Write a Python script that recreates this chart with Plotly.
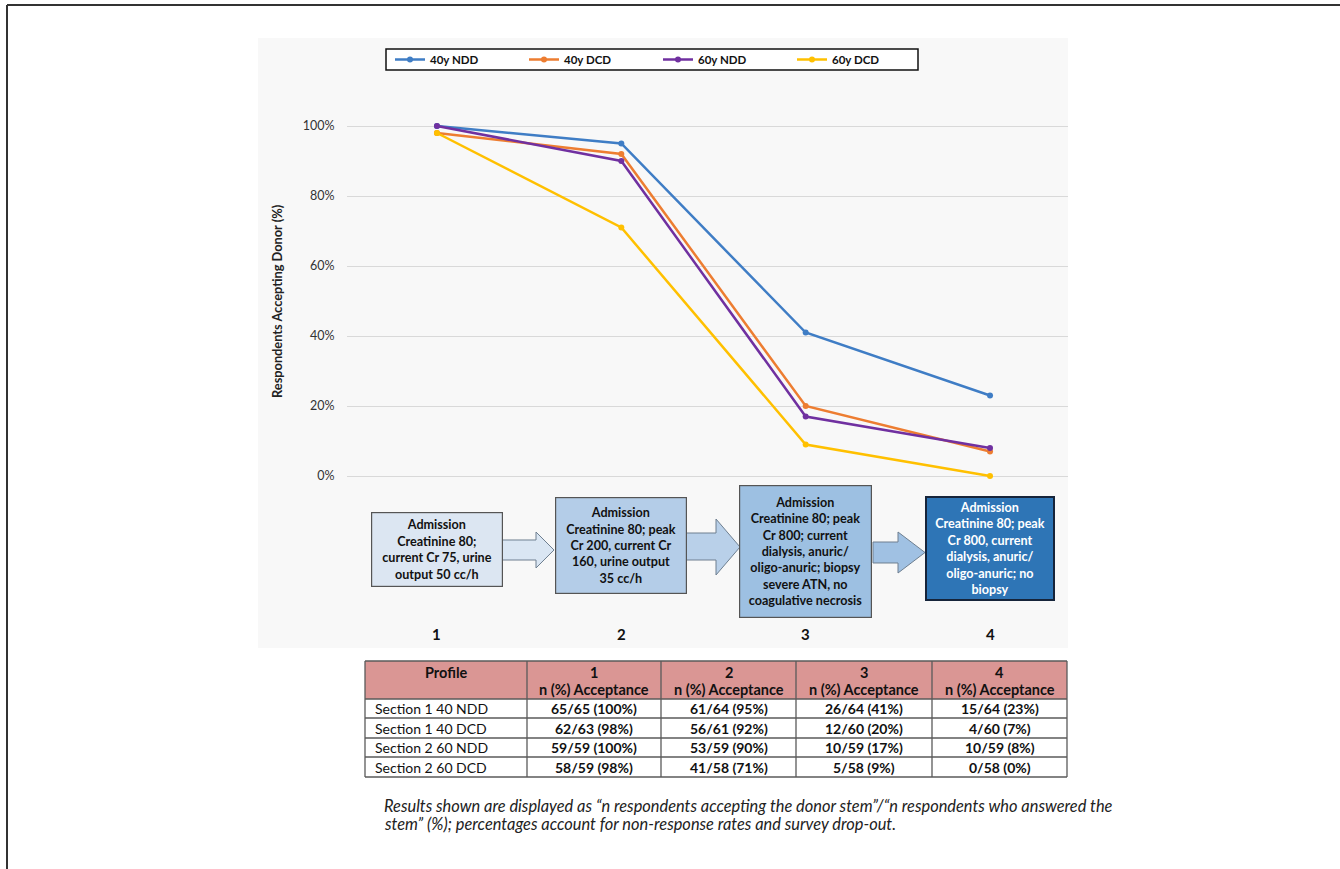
import plotly.graph_objects as go

# Acceptance (%) per donor profile for each donor group
profiles_x = [1, 2, 3, 4]
series_names = ["40y NDD", "40y DCD", "60y NDD", "60y DCD"]
ndd_40 = [100, 95, 41, 23]
dcd_40 = [98, 92, 20, 7]
ndd_60 = [100, 90, 17, 8]
dcd_60 = [98, 71, 9, 0]
series_colors = ["#3F7DC5", "#ED7D31", "#7030A0", "#FFC000"]
y_ticks = [0, 20, 40, 60, 80, 100]

# Table: respondents accepting / respondents answering
table_rows = ["Section 1 40 NDD", "Section 1 40 DCD", "Section 2 60 NDD", "Section 2 60 DCD"]
accepted = [[65, 61, 26, 15], [62, 56, 12, 4], [59, 53, 10, 10], [58, 41, 5, 0]]
answered = [[65, 64, 64, 64], [63, 61, 60, 60], [59, 59, 59, 59], [59, 58, 58, 58]]

profile_texts = [
    "Admission<br>Creatinine 80;<br>current Cr 75, urine<br>output 50 cc/h",
    "Admission<br>Creatinine 80; peak<br>Cr 200, current Cr<br>160, urine output<br>35 cc/h",
    "Admission<br>Creatinine 80; peak<br>Cr 800; current<br>dialysis, anuric/<br>oligo-anuric; biopsy<br>severe ATN, no<br>coagulative necrosis",
    "Admission<br>Creatinine 80; peak<br>Cr 800, current<br>dialysis, anuric/<br>oligo-anuric; no<br>biopsy",
]

footnote_lines = [
    "Results shown are displayed as “n respondents accepting the donor stem”/“n respondents who answered the",
    "stem” (%); percentages account for non-response rates and survey drop-out.",
]

W, H = 1340, 869
FONT = "Lato, 'Open Sans', sans-serif"


def px(x):
    return x / W


def py(y):
    return 1 - y / H


def label(text, x, y, font, xref="paper", xanchor="center", **kw):
    return dict(text=text, xref=xref, yref="paper", x=x, y=y, xanchor=xanchor, yanchor="middle",
                showarrow=False, font=font, **kw)


fig = go.Figure()

pct_series = [ndd_40, dcd_40, ndd_60, dcd_60]
for name, vals, col in zip(series_names, pct_series, series_colors):
    fig.add_trace(go.Scatter(
        x=profiles_x, y=vals, name=name, mode="lines+markers",
        line=dict(color=col, width=2.5), marker=dict(color=col, size=6),
        cliponaxis=False,
    ))

shapes = []
annotations = []

# outer frame
shapes.append(dict(type="line", xref="paper", yref="paper", x0=px(7), x1=1, y0=py(5), y1=py(5),
                   line=dict(color="#333", width=2)))
shapes.append(dict(type="line", xref="paper", yref="paper", x0=px(7), x1=px(7), y0=py(5), y1=0,
                   line=dict(color="#333", width=2)))
# light panel behind chart
shapes.append(dict(type="rect", xref="paper", yref="paper", x0=px(258), x1=px(1068), y0=py(38), y1=py(648),
                   fillcolor="#F8F8F8", line=dict(width=0), layer="below"))
# legend frame
shapes.append(dict(type="rect", xref="paper", yref="paper", x0=px(386), x1=px(918), y0=py(49), y1=py(70),
                   fillcolor="white", line=dict(color="#111", width=1.5), layer="below"))

# block arrows between the profile boxes
arrows = [
    # x_start, x_head, x_tip, shaft_top, shaft_bot, head_top, head_bot, fill
    (500, 536, 554, 540, 560, 532, 568, "#DAE6F3"),
    (686, 716, 740, 533, 560, 519, 575, "#B9D0E9"),
    (873, 898, 925, 542, 563, 532, 573, "#A0C1E3"),
]
for xs, xh, xt, st, sb, ht, hb, fc in arrows:
    mid = (ht + hb) / 2
    pts = [(xs, st), (xh, st), (xh, ht), (xt, mid), (xh, hb), (xh, sb), (xs, sb)]
    path = "M " + " L ".join(f"{px(a):.5f},{py(b):.5f}" for a, b in pts) + " Z"
    shapes.append(dict(type="path", xref="paper", yref="paper", path=path,
                       fillcolor=fc, line=dict(color="#6E7F90", width=1)))

# y axis title
annotations.append(label("<b>Respondents Accepting Donor (%)</b>", px(277), py(301),
                         dict(family=FONT, size=12.8, color="#222"), textangle=-90))

# profile description boxes
box_geo = [  # center y, width, height, fill, border, border width, font colour
    (549.5, 132, 75, "#DCE6F2", "#555", 1.2, "#111"),
    (545.5, 132, 97, "#B4CDE8", "#555", 1.2, "#111"),
    (551.5, 133, 133, "#9DC0E2", "#555", 1.2, "#111"),
    (548.5, 130, 105, "#2E75B6", "#16243A", 2, "white"),
]
for p, txt, (cy, w, h, fc, bc, bw, tc) in zip(profiles_x, profile_texts, box_geo):
    annotations.append(label(f"<b>{txt}</b>", p, py(cy), dict(family=FONT, size=12.6, color=tc), xref="x",
                             width=w - 2 * bw - 2, height=h - 2 * bw - 2, borderpad=1,
                             bgcolor=fc, bordercolor=bc, borderwidth=bw, valign="middle"))
    annotations.append(label(f"<b>{p}</b>", p, py(634), dict(family=FONT, size=15, color="#111"), xref="x"))

# summary table under the chart
col_edges = [365, 527, 661, 796, 932, 1067]
row_edges = [661, 699, 718, 738, 757, 777]
grid = dict(color="#5A5A5A", width=1.3)
shapes.append(dict(type="rect", xref="paper", yref="paper", x0=px(col_edges[0]), x1=px(col_edges[-1]),
                   y0=py(row_edges[0]), y1=py(row_edges[1]), fillcolor="#DA9694", line=dict(width=0)))
shapes.append(dict(type="rect", xref="paper", yref="paper", x0=px(col_edges[0]), x1=px(col_edges[-1]),
                   y0=py(row_edges[1]), y1=py(row_edges[-1]), fillcolor="white", line=dict(width=0)))
for xe in col_edges:
    shapes.append(dict(type="line", xref="paper", yref="paper", x0=px(xe), x1=px(xe),
                       y0=py(row_edges[0]), y1=py(row_edges[-1]), line=grid))
for ye in row_edges:
    shapes.append(dict(type="line", xref="paper", yref="paper", x0=px(col_edges[0]), x1=px(col_edges[-1]),
                       y0=py(ye), y1=py(ye), line=grid))

header_font = dict(family=FONT, size=14.5, color="#111")
cell_font = dict(family=FONT, size=14, color="#111")
annotations.append(label("<b>Profile</b>", px((col_edges[0] + col_edges[1]) / 2), py(672), header_font))
for j, p in enumerate(profiles_x):
    cx = px((col_edges[j + 1] + col_edges[j + 2]) / 2)
    annotations.append(label(f"<b>{p}</b>", cx, py(672), header_font))
    annotations.append(label("<b>n (%) Acceptance</b>", cx, py(689), header_font))
for i, name in enumerate(table_rows):
    cy = py((row_edges[i + 1] + row_edges[i + 2]) / 2)
    annotations.append(label(name, px(col_edges[0] + 8), cy, cell_font, xanchor="left"))
    for j in range(4):
        cx = px((col_edges[j + 1] + col_edges[j + 2]) / 2)
        annotations.append(label(f"<b>{accepted[i][j]}/{answered[i][j]} ({pct_series[i][j]}%)</b>",
                                 cx, cy, cell_font))

for k, line in enumerate(footnote_lines):
    annotations.append(label(f"<i>{line}</i>", px(382), py(805 + 18 * k),
                             dict(family=FONT, size=16.4, color="#222"), xanchor="left", align="left"))

fig.update_layout(
    width=W, height=H, margin=dict(l=0, r=0, t=0, b=0),
    paper_bgcolor="white", plot_bgcolor="rgba(0,0,0,0)",
    font=dict(family=FONT, color="#222"),
    shapes=shapes, annotations=annotations,
    showlegend=True,
    legend=dict(orientation="h", x=px(390), y=py(59.5), xanchor="left", yanchor="middle",
                borderwidth=0, bgcolor="rgba(0,0,0,0)",
                entrywidth=89, entrywidthmode="pixels", itemwidth=30,
                font=dict(family=FONT, size=11.5, color="#111", weight="bold")),
    xaxis=dict(domain=[px(347), px(1068)], range=[0.512, 4.423], showgrid=False,
               showticklabels=False, zeroline=False, showline=False, fixedrange=True),
    yaxis=dict(domain=[py(483), py(119)], range=[-2, 102], tickvals=y_ticks,
               ticktext=[f"{v}%" for v in y_ticks],
               showgrid=True, gridcolor="#D9D9D9", gridwidth=1, zeroline=False,
               ticks="outside", ticklen=9, tickcolor="rgba(0,0,0,0)",
               tickfont=dict(family=FONT, size=12.5, color="#333"), fixedrange=True),
)

fig.write_html("out.html")
